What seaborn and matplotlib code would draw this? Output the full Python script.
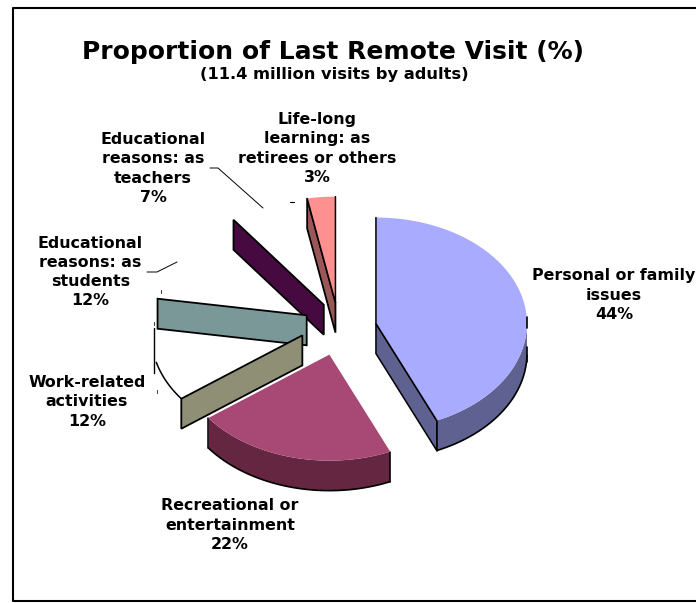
import numpy as np
import matplotlib
matplotlib.use('Agg')
import matplotlib.pyplot as plt
import seaborn as sns

# chart data
categories = ['Personal or family\nissues', 'Recreational or\nentertainment', 'Work-related\nactivities',
              'Educational\nreasons: as\nstudents', 'Educational\nreasons: as\nteachers',
              'Life-long\nlearning: as\nretirees or others']
label_values = [44, 22, 12, 12, 7, 3]
slice_sizes = [43.4, 21.4, 12.7, 12.3, 7.2, 3.0]
top_colors = ['#A9ABFF', '#A84874', 'white', 'white', 'white', '#FF9090']
side_colors = ['#5F6190', '#642640', '#8F8F75', '#7B9898', '#470A40', '#995757']
outlined = [True, False, False, False, False, True]
label_pos = [(614, 295), (230, 525), (87, 402), (90.5, 272), (153, 168.5), (317, 148.5)]

# pie geometry in pixels, an oblique view of an exploded 3D pie
cx, cy = 339, 329
rx, ry = 151, 106
depth = 30
explode = 0.25


def project(angle):
    # angle in degrees, clockwise from 12 o'clock
    a = np.radians(angle)
    return rx * np.sin(a), -ry * np.cos(a)


def slice_origin(start, end):
    dx, dy = project((start + end) / 2)
    return cx + explode * dx, cy + explode * dy


def draw_slice(ax, start, end, top, side, outline, order):
    ox, oy = slice_origin(start, end)
    ts = np.linspace(start, end, 80)
    px, py = project(ts)
    px, py = ox + px, oy + py
    sx, sy = project(start)
    ex, ey = project(end)

    # radial cut faces, only the ones turned towards the viewer
    if start > 180:
        ax.fill([ox, ox + sx, ox + sx, ox], [oy, oy + sy, oy + sy + depth, oy + depth],
                fc=side, ec='black', lw=1.3, zorder=order)
    if end < 180:
        ax.fill([ox, ox + ex, ox + ex, ox], [oy, oy + ey, oy + ey + depth, oy + depth],
                fc=side, ec='black', lw=1.1, zorder=order)

    # white slices have lost their top and rim in the original
    if top == 'white':
        return

    # outer rim
    front = (ts > 90) & (ts < 270)
    if front.any():
        fx, fy = px[front], py[front]
        ax.fill(np.r_[fx, fx[::-1]], np.r_[fy, fy[::-1] + depth], fc=side, lw=0, zorder=order)
        ax.plot(fx, fy + depth, color='black', lw=1.2, zorder=order + 0.1)
        for i in (0, -1):
            if 100 < ts[front][i] < 260:
                ax.plot([fx[i], fx[i]], [fy[i], fy[i] + depth], color='black', lw=1.1, zorder=order + 0.1)

    ax.fill(np.r_[ox, px], np.r_[oy, py], fc=top, lw=0, zorder=order + 0.2)
    if outline:
        ax.plot([ox + sx, ox, ox + ex], [oy + sy, oy, oy + ey], color='black', lw=1.1, zorder=order + 0.3)


sns.set_theme(style='white')
plt.rcParams['font.family'] = ['DejaVu Sans']

fig = plt.figure(figsize=(6.96, 6.03), dpi=100)
ax = fig.add_axes([0, 0, 1, 1])
ax.set_xlim(0, 696)
ax.set_ylim(603, 0)
ax.axis('off')

# chart frame, open on the right
ax.plot([700, 12.5, 12.5, 700], [7.5, 7.5, 600.5, 600.5], color='black', lw=1.5)

edges = np.r_[0, np.cumsum(slice_sizes)] * 3.6
draw_order = [5, 4, 3, 2, 0, 1]
for z, i in enumerate(draw_order):
    draw_slice(ax, edges[i], edges[i + 1], top_colors[i], side_colors[i], outlined[i], 3 + z)

# leftover piece of the work-related slice's arc
ox3, oy3 = slice_origin(edges[2], edges[3])
arc_x, arc_y = project(np.linspace(edges[2], edges[2] + 22, 30))
ax.plot(ox3 + arc_x, oy3 + arc_y, color='black', lw=1.1, zorder=4)

# stray rendering fragments
ax.plot([153.5, 153.5], [328, 373], color='black', lw=1.0)
ax.plot([526.5, 526.5], [317, 328], color='black', lw=1.2, zorder=20)
ax.plot([526.5, 526.5], [347, 362], color='black', lw=1.2, zorder=20)
ax.plot([290, 294], [201.5, 201.5], color='black', lw=0.8)
for dot_x, dot_y in [(161, 291), (153.5, 323), (157, 391)]:
    ax.plot([dot_x, dot_x], [dot_y - 1.5, dot_y + 1.5], color='#444444', lw=0.8)

ax.text(332.5, 52, 'Proportion of Last Remote Visit (%)', ha='center', va='center',
        fontsize=18, fontweight='bold', color='black')
ax.text(334, 75, '(11.4 million visits by adults)', ha='center', va='center',
        fontsize=11.7, fontweight='bold', color='black')

for name, value, (lx, ly) in zip(categories, label_values, label_pos):
    ax.text(lx, ly, f'{name}\n{value}%', ha='center', va='center', fontsize=11.4,
            fontweight='bold', color='black', linespacing=1.34)

# leader lines
ax.plot([210, 218, 263], [168, 168, 208], color='black', lw=0.7)
ax.plot([147, 157, 177], [272, 272, 262], color='black', lw=0.7)

fig.savefig('out.png', dpi=100)
